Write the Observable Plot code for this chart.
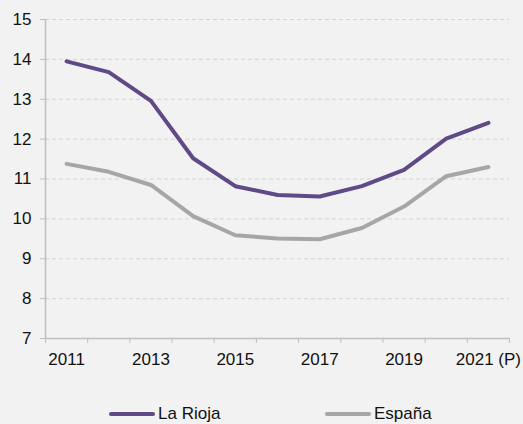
<!DOCTYPE html>
<html>
<head>
<meta charset="utf-8">
<script src="https://cdn.jsdelivr.net/npm/d3@7"></script>
<script src="https://cdn.jsdelivr.net/npm/@observablehq/plot@0.6"></script>
<style>
  html, body { margin: 0; padding: 0; background: #f2f2f2; }
  body { width: 523px; height: 424px; overflow: hidden; font-family: "Liberation Sans", Arial, sans-serif; }
  #legend { position: relative; font-size: 17px; color: #111; height: 22px; margin-top: 11px; }
  .item { display: flex; align-items: center; position: absolute; top: 0; height: 22px; line-height: 20px; }
  .sw { width: 46px; height: 4.5px; border-radius: 2.5px; margin-right: 3px; }
</style>
</head>
<body>
<div id="chart"></div>
<div id="legend"></div>
<script>
const years = [2011, 2012, 2013, 2014, 2015, 2016, 2017, 2018, 2019, 2020, 2021];
const laRioja = [13.95, 13.68, 12.96, 11.52, 10.82, 10.6, 10.56, 10.82, 11.23, 12.01, 12.41];
const espana  = [11.38, 11.18, 10.85, 10.07, 9.59, 9.51, 9.49, 9.77, 10.31, 11.07, 11.3];
const seriesNames = ["La Rioja", "España"];
const seriesColors = ["#5f4a87", "#a6a6a6"];
const labeledYears = [2011, 2013, 2015, 2017, 2019, 2021];
const yearLabels = ["2011", "2013", "2015", "2017", "2019", "2021 (P)"];
const yTicks = [7, 8, 9, 10, 11, 12, 13, 14, 15];

const data = [];
years.forEach((y, i) => {
  data.push({year: y, value: laRioja[i], series: seriesNames[0]});
  data.push({year: y, value: espana[i], series: seriesNames[1]});
});
const boundaries = years.map(y => y - 0.5).concat([years[years.length - 1] + 0.5]);
const x0 = boundaries[0], x1 = boundaries[boundaries.length - 1];

const chart = Plot.plot({
  width: 523,
  height: 392,
  marginLeft: 45,
  marginRight: 14,
  marginTop: 19,
  marginBottom: 54,
  style: {background: "#f2f2f2", fontFamily: "Liberation Sans, Arial, sans-serif", fontSize: "17px", color: "#111"},
  x: {domain: [x0, x1]},
  y: {domain: [7, 15]},
  color: {domain: seriesNames, range: seriesColors},
  marks: [
    Plot.gridY(yTicks.slice(1), {stroke: "#d4d4d4", strokeOpacity: 1, strokeDasharray: "4,3"}),
    Plot.ruleX([x0], {stroke: "#bfbfbf", strokeWidth: 1.5}),
    Plot.ruleY([7], {stroke: "#bfbfbf", strokeWidth: 1.5}),
    Plot.axisY({ticks: yTicks, tickSize: 5, tickPadding: 9, stroke: "#bfbfbf", label: null, fontSize: 17}),
    Plot.axisX({ticks: boundaries, tickSize: 5, tickFormat: () => "", stroke: "#bfbfbf", label: null}),
    Plot.axisX({ticks: labeledYears, tickSize: 0, tickPadding: 14, tickFormat: (d) => yearLabels[labeledYears.indexOf(d)], label: null, fontSize: 17}),
    Plot.line(data, {x: "year", y: "value", z: "series", stroke: "series", strokeWidth: 4, strokeLinejoin: "round", strokeLinecap: "round"})
  ]
});
chart.style.display = "block";
document.getElementById("chart").appendChild(chart);

const legend = document.getElementById("legend");
const lefts = [109, 325];
seriesNames.forEach((name, i) => {
  const it = document.createElement("div");
  it.className = "item";
  it.style.left = lefts[i] + "px";
  const sw = document.createElement("div");
  sw.className = "sw";
  sw.style.background = seriesColors[i];
  const t = document.createElement("span");
  t.textContent = name;
  it.appendChild(sw); it.appendChild(t);
  legend.appendChild(it);
});
</script>
</body>
</html>
